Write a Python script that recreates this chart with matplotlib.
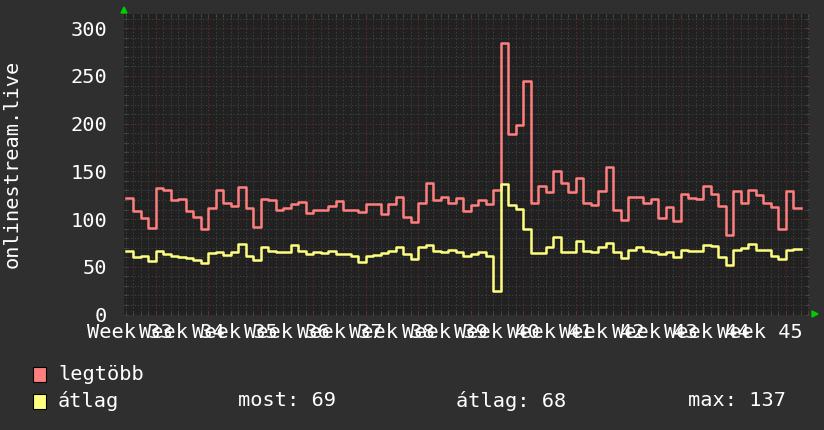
import numpy as np
import matplotlib
matplotlib.use("Agg")
import matplotlib.pyplot as plt
from matplotlib.ticker import MultipleLocator, FixedLocator
from matplotlib.patches import Polygon, Rectangle

# daily values, one per day (90 days)
legtobb = [122, 108, 101, 91, 133, 130, 120, 121, 108, 102,
           90, 112, 130, 117, 114, 134, 112, 92, 121, 120,
           110, 112, 116, 118, 106, 110, 110, 114, 119, 110,
           110, 107, 116, 116, 105, 116, 123, 102, 97, 117,
           138, 120, 123, 117, 122, 108, 115, 120, 116, 130,
           285, 189, 199, 245, 117, 135, 128, 150, 138, 128,
           143, 117, 115, 129, 155, 110, 99, 123, 123, 117,
           121, 101, 113, 98, 126, 122, 121, 135, 126, 114,
           83, 129, 117, 130, 125, 117, 113, 90, 129, 112]
atlag = [67, 60, 61, 56, 67, 63, 61, 60, 59, 57,
         54, 64, 65, 62, 66, 74, 61, 57, 71, 67,
         65, 65, 73, 67, 63, 65, 64, 67, 63, 63,
         61, 55, 61, 62, 64, 67, 71, 63, 58, 71,
         73, 67, 65, 68, 65, 61, 63, 65, 61, 25,
         137, 115, 111, 90, 64, 64, 71, 81, 66, 66,
         77, 67, 66, 71, 75, 66, 59, 68, 71, 67,
         66, 63, 65, 60, 68, 67, 67, 73, 72, 60,
         52, 68, 70, 74, 68, 68, 61, 58, 68, 69]
weeks = list(range(33, 46))
week_labels = ["Week %d" % w for w in weeks]
legend_stats = ["most: 69", "átlag: 68", "max: 137"]

RED = "#ff7f7f"
YELLOW = "#ffff7f"
W, H = 824, 430

plt.rcParams['font.family'] = ['DejaVu Sans Mono']
fs = 14.6

fig = plt.figure(figsize=(W / 100, H / 100), dpi=100, facecolor="#2f2f2f")
left, right, top, bottom = 124, 809, 13.5, 314.5
ax = fig.add_axes([left / W, 1 - bottom / H, (right - left) / W, (bottom - top) / H])
ax.set_facecolor("#212121")

# step lines, each value covers one day
edges = np.arange(len(legtobb) + 1)
ax.step(edges, legtobb + legtobb[-1:], where="post", color=RED, lw=1.8, zorder=3)
ax.step(edges, atlag + atlag[-1:], where="post", color=YELLOW, lw=1.8, zorder=4)

ax.set_xlim(-0.23, 91.1)
ax.set_ylim(0, 315.5)

# grid: days / weeks, 10 / 50
week_lines = [4 + 7 * k for k in range(len(weeks))]
ax.xaxis.set_major_locator(FixedLocator(week_lines))
ax.xaxis.set_minor_locator(MultipleLocator(1))
ax.yaxis.set_major_locator(MultipleLocator(50))
ax.yaxis.set_minor_locator(MultipleLocator(10))
ax.set_xticklabels([])
ax.grid(which="minor", color="#3e3e3e", lw=0.72, linestyle=(0, (1.4, 2.0)), zorder=1)
ax.grid(which="major", color="#5e2b2b", lw=0.72, linestyle=(0, (1.4, 2.0)), zorder=2)
ax.set_axisbelow(True)
ax.tick_params(which="both", direction="in", top=True, right=True, color="#4a4a4a", width=0.72)
ax.tick_params(which="major", length=3, color="#6a3030")
ax.tick_params(which="minor", length=2)
ax.tick_params(axis="y", labelcolor="white", labelsize=fs, pad=12.2)
for s in ax.spines.values():
    s.set_visible(False)

# week labels sit in the middle of each week
for k, lab in enumerate(week_labels):
    ax.text(week_lines[k] - 3.5, -8.5 / (bottom - top), lab, transform=ax.get_xaxis_transform(),
            ha="center", va="top", color="white", fontsize=fs)

fig.text(12 / W, 1 - 164 / H, "onlinestream.live", rotation=90, ha="center", va="center",
         color="white", fontsize=fs)

# arrows at the axis ends
fig.patches.append(Polygon([[121 / W, 1 - 13 / H], [127 / W, 1 - 13 / H], [124 / W, 1 - 7 / H]],
                           closed=True, color="#00cc00", transform=fig.transFigure))
fig.patches.append(Polygon([[812 / W, 1 - 311 / H], [812 / W, 1 - 317 / H], [818 / W, 1 - 314 / H]],
                           closed=True, color="#00cc00", transform=fig.transFigure))

# legend
for yc, col, name in [(374, RED, "legtöbb"), (401, YELLOW, "átlag")]:
    fig.patches.append(Rectangle((33 / W, 1 - (yc + 7.5) / H), 13 / W, 15 / H, facecolor=col,
                                 edgecolor="black", lw=0.8, transform=fig.transFigure))
    fig.text(58 / W, 1 - yc / H, name, ha="left", va="center", color="white", fontsize=fs)
for xs, txt in zip([238, 456, 688], legend_stats):
    fig.text(xs / W, 1 - 401 / H, txt, ha="left", va="center", color="white", fontsize=fs)

fig.savefig("out.png", dpi=100, facecolor=fig.get_facecolor())
